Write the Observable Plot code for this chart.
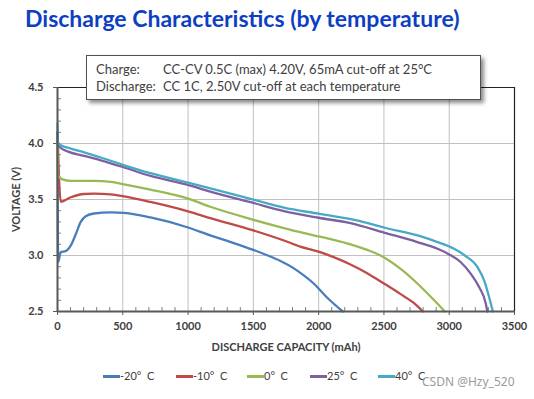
<!DOCTYPE html>
<html>
<head>
<meta charset="utf-8">
<script src="https://cdn.jsdelivr.net/npm/d3@7"></script>
<script src="https://cdn.jsdelivr.net/npm/@observablehq/plot@0.6"></script>
<style>
  html, body { margin: 0; padding: 0; background: #fff; }
  #wrap { position: relative; width: 534px; height: 399px; overflow: hidden; font-family: Lato, "Open Sans", sans-serif; }
  #chart { position: absolute; left: 0; top: 0; }
  #title { position: absolute; left: 25px; top: 4px; font-size: 23px; font-weight: bold; color: #0d3fc2; white-space: nowrap; }
  #note { position: absolute; left: 86px; top: 55px; width: 393px; height: 43px; border: 1.5px solid #505050; background: #fff;
          box-shadow: 3px 3px 4px rgba(0,0,0,0.45); font-size: 13px; color: #404040; }
  #note span { position: absolute; white-space: nowrap; }
  #legend { position: absolute; left: 0; top: 368px; width: 534px; height: 18px; font-size: 11px; color: #404040; }
  #legend .sw { position: absolute; top: 7px; height: 2.5px; width: 17px; }
  #legend .lb { position: absolute; top: 1px; white-space: pre; }
  #wm { position: absolute; left: 422px; top: 373px; font-size: 12px; color: #9a9a9a; white-space: nowrap; font-family: "Noto Sans", sans-serif; }
</style>
</head>
<body>
<div id="wrap">
  <div id="chart"></div>
  <div id="title">Discharge Characteristics (by temperature)</div>
  <div id="note">
    <span style="left:9px; top:5px">Charge:</span>
    <span style="left:76px; top:5px">CC-CV 0.5C (max) 4.20V, 65mA cut-off at 25°C</span>
    <span style="left:9px; top:22px">Discharge:</span>
    <span style="left:76px; top:22px">CC 1C, 2.50V cut-off at each temperature</span>
  </div>
  <div id="legend"></div>
  <div id="wm">CSDN @Hzy_520</div>
</div>
<script>
// ---- data ----
const seriesNames = ["-20°  C", "-10°  C", "0°  C", "25°  C", "40°  C"];
const seriesColors = ["#4a7ebb", "#be4b48", "#98b954", "#7d60a0", "#46aac5"];

const capM20 = [0, 5, 25, 64, 102, 140, 178, 216, 280, 407, 509, 712, 1000, 1170, 1302, 1500, 1610, 1700, 1810, 1860, 1962, 2064, 2185];
const voltM20 = [4.10, 2.94, 3.03, 3.04, 3.09, 3.19, 3.30, 3.35, 3.375, 3.385, 3.38, 3.34, 3.25, 3.18, 3.13, 3.05, 3.0, 2.955, 2.885, 2.845, 2.75, 2.625, 2.50];

const capM10 = [0, 25, 102, 204, 280, 407, 509, 712, 1000, 1170, 1500, 1734, 1859, 2000, 2115, 2244, 2372, 2500, 2628, 2731, 2798];
const voltM10 = [4.10, 3.48, 3.52, 3.549, 3.552, 3.546, 3.528, 3.478, 3.394, 3.334, 3.224, 3.134, 3.08, 3.035, 2.985, 2.92, 2.842, 2.75, 2.655, 2.574, 2.50];

const cap0 = [0, 3, 38, 102, 280, 407, 509, 712, 1000, 1170, 1500, 1734, 1859, 2000, 2115, 2244, 2372, 2474, 2628, 2756, 2885, 2966];
const volt0 = [4.05, 3.716, 3.68, 3.666, 3.666, 3.657, 3.636, 3.588, 3.507, 3.435, 3.319, 3.245, 3.208, 3.17, 3.14, 3.10, 3.05, 3.0, 2.88, 2.75, 2.60, 2.50];

const cap25 = [0, 3, 25, 76, 204, 331, 500, 712, 1000, 1170, 1500, 1734, 2000, 2244, 2500, 2756, 2911, 3000, 3089, 3166, 3230, 3281, 3292];
const volt25 = [4.10, 3.99, 3.96, 3.93, 3.89, 3.85, 3.79, 3.71, 3.63, 3.57, 3.469, 3.397, 3.337, 3.289, 3.205, 3.12, 3.06, 3.01, 2.94, 2.836, 2.716, 2.567, 2.50];

const cap40 = [0, 3, 25, 102, 204, 331, 500, 712, 1000, 1170, 1500, 1734, 2000, 2317, 2500, 2783, 2911, 3038, 3120, 3217, 3268, 3306, 3334];
const volt40 = [4.18, 4.01, 3.985, 3.955, 3.92, 3.875, 3.81, 3.735, 3.65, 3.60, 3.499, 3.427, 3.373, 3.307, 3.25, 3.17, 3.12, 3.06, 3.0, 2.896, 2.776, 2.627, 2.50];

const xTicks = [0, 500, 1000, 1500, 2000, 2500, 3000, 3500];
const yTicks = [2.5, 3.0, 3.5, 4.0, 4.5];

// ---- build table ----
const caps = [capM20, capM10, cap0, cap25, cap40];
const volts = [voltM20, voltM10, volt0, volt25, volt40];
const rows = [];
caps.forEach((c, i) => c.forEach((x, j) => rows.push({series: seriesNames[i], cap: x, v: volts[i][j]})));

const xMinor = d3.range(0, 3501, 100).filter(d => d % 500 !== 0);
const yMinor = d3.range(25, 46, 1).map(d => d / 10).filter(d => Math.round(d * 10) % 5 !== 0);

const font = "Lato, 'Open Sans', sans-serif";
const chart = Plot.plot({
  width: 534, height: 399,
  marginLeft: 57, marginRight: 20, marginTop: 87, marginBottom: 88,
  style: {fontFamily: font, fontSize: "11px", color: "#404040", background: "transparent"},
  x: {domain: [0, 3500], label: null},
  y: {domain: [2.5, 4.5], label: null},
  color: {domain: seriesNames, range: seriesColors},
  marks: [
    Plot.gridX(xTicks.slice(1, -1), {stroke: "#c0c0c0", strokeOpacity: 1, strokeWidth: 1}),
    Plot.gridY([3.0, 3.5, 4.0], {stroke: "#c0c0c0", strokeOpacity: 1, strokeWidth: 1}),
    Plot.axisX(xMinor, {tickSize: -4, text: null, label: null, stroke: "#808080"}),
    Plot.axisY(yMinor, {tickSize: -4, text: null, label: null, stroke: "#808080"}),
    Plot.axisX(xTicks, {tickSize: 4, tickPadding: 7, tickFormat: d => String(d), fontWeight: "bold", fontSize: 11,
      label: "DISCHARGE CAPACITY (mAh)", labelAnchor: "center", labelArrow: "none", labelOffset: 39, stroke: "#595959"}),
    Plot.axisY(yTicks, {tickSize: 4, tickPadding: 10, tickFormat: d3.format(".1f"), fontWeight: "bold", fontSize: 11,
      label: "VOLTAGE (V)", labelAnchor: "center", labelArrow: "none", labelOffset: 45, stroke: "#595959"}),
    Plot.ruleY([4.5], {stroke: "#222", strokeWidth: 1.2}),
    Plot.ruleX([3500], {stroke: "#222", strokeWidth: 1.2}),
    Plot.line(rows, {x: "cap", y: "v", z: "series", stroke: "series", strokeWidth: 2.3, curve: "monotone-x"}),
    Plot.ruleX([0], {stroke: "#595959", strokeWidth: 2}),
    Plot.ruleY([2.5], {stroke: "#595959", strokeWidth: 2})
  ]
});
document.getElementById("chart").appendChild(chart);

// legend
const legendX = [103, 176, 247, 310, 378];
const legend = document.getElementById("legend");
seriesNames.forEach((n, i) => {
  const sw = document.createElement("div");
  sw.className = "sw"; sw.style.left = legendX[i] + "px"; sw.style.background = seriesColors[i];
  legend.appendChild(sw);
  const lb = document.createElement("div");
  lb.className = "lb"; lb.style.left = (legendX[i] + 17) + "px"; lb.textContent = n;
  legend.appendChild(lb);
});
</script>
</body>
</html>
